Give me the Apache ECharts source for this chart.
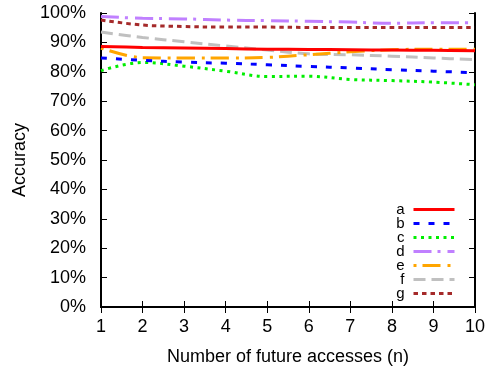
<!DOCTYPE html>
<html>
<head>
<meta charset="utf-8">
<script src="https://cdn.jsdelivr.net/npm/echarts@6/dist/echarts.min.js"></script>
<style>html,body{margin:0;padding:0;background:#fff;}#c{width:490px;height:371px;}</style>
</head>
<body>
<div id="c"></div>
<script>
const xValues = [1, 2, 3, 4, 5, 6, 7, 8, 9, 10];
const seriesNames = ['a', 'b', 'c', 'd', 'e', 'f', 'g'];
const a = [88.6, 88.3, 88.1, 87.9, 87.7, 87.6, 87.5, 87.4, 87.3, 87.2];
const b = [84.7, 83.9, 83.3, 82.9, 82.4, 81.8, 81.3, 80.7, 80.2, 79.7];
const c = [80.4, 83.2, 81.9, 80.2, 78.4, 78.5, 77.4, 77.0, 76.5, 75.6];
const d = [98.8, 98.2, 98.0, 97.6, 97.4, 97.2, 96.9, 96.5, 96.7, 96.7];
const e = [88.1, 84.8, 84.7, 84.7, 84.9, 85.8, 86.8, 87.5, 87.7, 87.7];
const f = [93.5, 91.7, 90.2, 88.8, 87.4, 86.1, 85.8, 85.3, 84.7, 84.1];
const g = [97.6, 95.9, 95.4, 95.2, 95.2, 95.1, 95.1, 95.1, 95.1, 95.1];
const yTicks = [0, 10, 20, 30, 40, 50, 60, 70, 80, 90, 100];

const values = [a, b, c, d, e, f, g];
const colors = ['#ff0000', '#0000ff', '#00ee00', '#c080ff', '#ffa500', '#c0c0c0', '#a52a2a'];
const dashes = ['solid', [6, 9], [3, 4.5], [18, 6, 3, 7], [3, 6, 18, 7], [12, 6], [4.5, 4]];

const font = 'Liberation Sans, Arial, Helvetica, sans-serif';
const chart = echarts.init(document.getElementById('c'), null, {renderer: 'canvas'});

const series = seriesNames.map((n, i) => ({
  name: n,
  type: 'line',
  xAxisIndex: 0,
  yAxisIndex: 0,
  showSymbol: false,
  symbol: 'none',
  smooth: 0.35,
  data: xValues.map((x, k) => [x, values[i][k]]),
  lineStyle: {color: colors[i], width: 3, type: dashes[i]},
  itemStyle: {color: colors[i]},
  z: 2 + (7 - i)
}));

const axisLineStyle = {show: true, lineStyle: {color: '#000', width: 2}};

chart.setOption({
  animation: false,
  backgroundColor: '#fff',
  grid: {left: 101, right: 15, top: 13, bottom: 62, containLabel: false},
  legend: {
    orient: 'vertical',
    right: 34,
    top: 202,
    padding: 0,
    itemGap: -1,
    itemWidth: 41,
    itemHeight: 14,
    align: 'right',
    data: seriesNames,
    itemStyle: {opacity: 0},
    lineStyle: {width: 3},
    textStyle: {fontFamily: font, fontSize: 15, color: '#000', lineHeight: 14, padding: [0, 4, 0, 0]}
  },
  xAxis: [{
    type: 'value', min: 1, max: 10, interval: 1,
    name: 'Number of future accesses (n)',
    nameLocation: 'middle', nameGap: 41,
    nameTextStyle: {fontFamily: font, fontSize: 18, color: '#000'},
    axisLine: axisLineStyle,
    axisTick: {show: true, inside: true, length: 6, lineStyle: {color: '#000', width: 1}},
    axisLabel: {fontFamily: font, fontSize: 18, color: '#000', margin: 11},
    splitLine: {show: false}
  }, {
    type: 'value', min: 1, max: 10, interval: 1, position: 'top',
    axisLine: axisLineStyle,
    axisTick: {show: true, inside: true, length: 6, lineStyle: {color: '#000', width: 1}},
    axisLabel: {show: false},
    splitLine: {show: false}
  }],
  yAxis: [{
    type: 'value', min: 0, max: 100, interval: 10,
    name: 'Accuracy',
    nameLocation: 'middle', nameGap: 72,
    nameTextStyle: {fontFamily: font, fontSize: 18, color: '#000'},
    axisLine: axisLineStyle,
    axisTick: {show: true, inside: true, length: 6, lineStyle: {color: '#000', width: 1}},
    axisLabel: {fontFamily: font, fontSize: 18, color: '#000', margin: 15,
      formatter: v => yTicks.includes(v) ? v + '%' : ''},
    splitLine: {show: false}
  }, {
    type: 'value', min: 0, max: 100, interval: 10, position: 'right',
    axisLine: axisLineStyle,
    axisTick: {show: true, inside: true, length: 6, lineStyle: {color: '#000', width: 1}},
    axisLabel: {show: false},
    splitLine: {show: false}
  }],
  series: series
});
</script>
</body>
</html>
